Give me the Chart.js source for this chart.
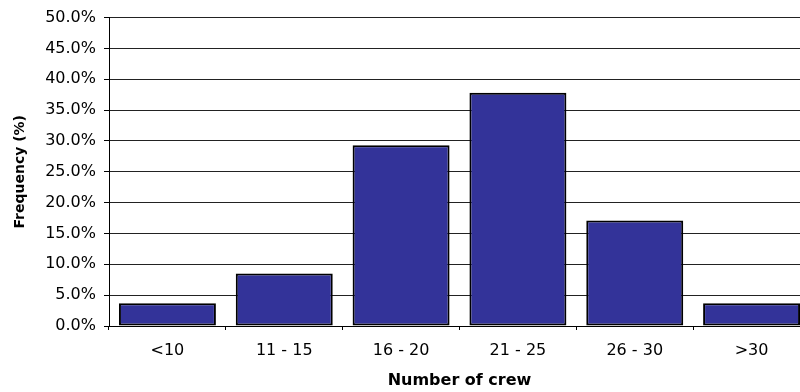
<!DOCTYPE html>
<html>
<head>
<meta charset="utf-8">
<title>Number of crew</title>
<script src="https://cdn.jsdelivr.net/npm/chart.js@4.4.1/dist/chart.umd.min.js"></script>
<style>
  html, body { margin: 0; padding: 0; background: #fff; overflow: hidden; }
  #wrap { width: 811px; height: 392px; }
</style>
</head>
<body>
<div id="wrap"><canvas id="crewChart"></canvas></div>
<script>
// crew size groups and share of vessels in each (%)
const crewGroups = ['<10', '11 - 15', '16 - 20', '21 - 25', '26 - 30', '>30'];
const frequency = [3.7, 8.5, 29.3, 37.8, 17.1, 3.7];
const yMax = 50;
const yStep = 5;

const ctx = document.getElementById('crewChart').getContext('2d');
const myChart = new Chart(ctx, {
    type: 'bar',
    data: {
        labels: crewGroups,
        datasets: [{
            label: 'Frequency (%)',
            data: frequency,
            backgroundColor: '#333399',
            borderColor: '#000000',
            borderWidth: 2,
            borderSkipped: false,
            barPercentage: 0.83,
            categoryPercentage: 1.0
        }]
    },
    options: {
        responsive: true,
        maintainAspectRatio: false,
        animation: false,
        layout: { padding: { top: 17, right: 1, left: 0, bottom: 0 } },
        plugins: {
            legend: { display: false },
            tooltip: { enabled: false }
        },
        scales: {
            x: {
                grid: {
                    drawOnChartArea: false,
                    drawTicks: true,
                    tickLength: 4,
                    tickColor: '#000',
                    offset: true
                },
                border: { color: '#000', width: 1 },
                ticks: {
                    color: '#000',
                    padding: 11,
                    maxRotation: 0,
                    font: { family: 'DejaVu Sans', size: 16 }
                },
                title: {
                    display: true,
                    text: 'Number of crew',
                    color: '#000',
                    padding: { top: 0, bottom: 2 },
                    font: { family: 'DejaVu Sans', size: 16, weight: 'bold' }
                },
                afterFit: function(scale) { scale.height = 66; }
            },
            y: {
                min: 0,
                max: yMax,
                grid: {
                    color: '#222',
                    lineWidth: 1,
                    drawTicks: true,
                    tickLength: 5,
                    tickColor: '#000'
                },
                border: { color: '#000', width: 1 },
                ticks: {
                    stepSize: yStep,
                    color: '#000',
                    padding: 8,
                    font: { family: 'DejaVu Sans', size: 16 },
                    callback: function(v) { return v.toFixed(1) + '%'; }
                },
                title: {
                    display: true,
                    text: 'Frequency (%)',
                    color: '#000',
                    padding: { top: 12, bottom: 0 },
                    font: { family: 'DejaVu Sans', size: 14, weight: 'bold' }
                },
                afterFit: function(scale) { scale.width = 109; }
            }
        }
    }
});
</script>
</body>
</html>
